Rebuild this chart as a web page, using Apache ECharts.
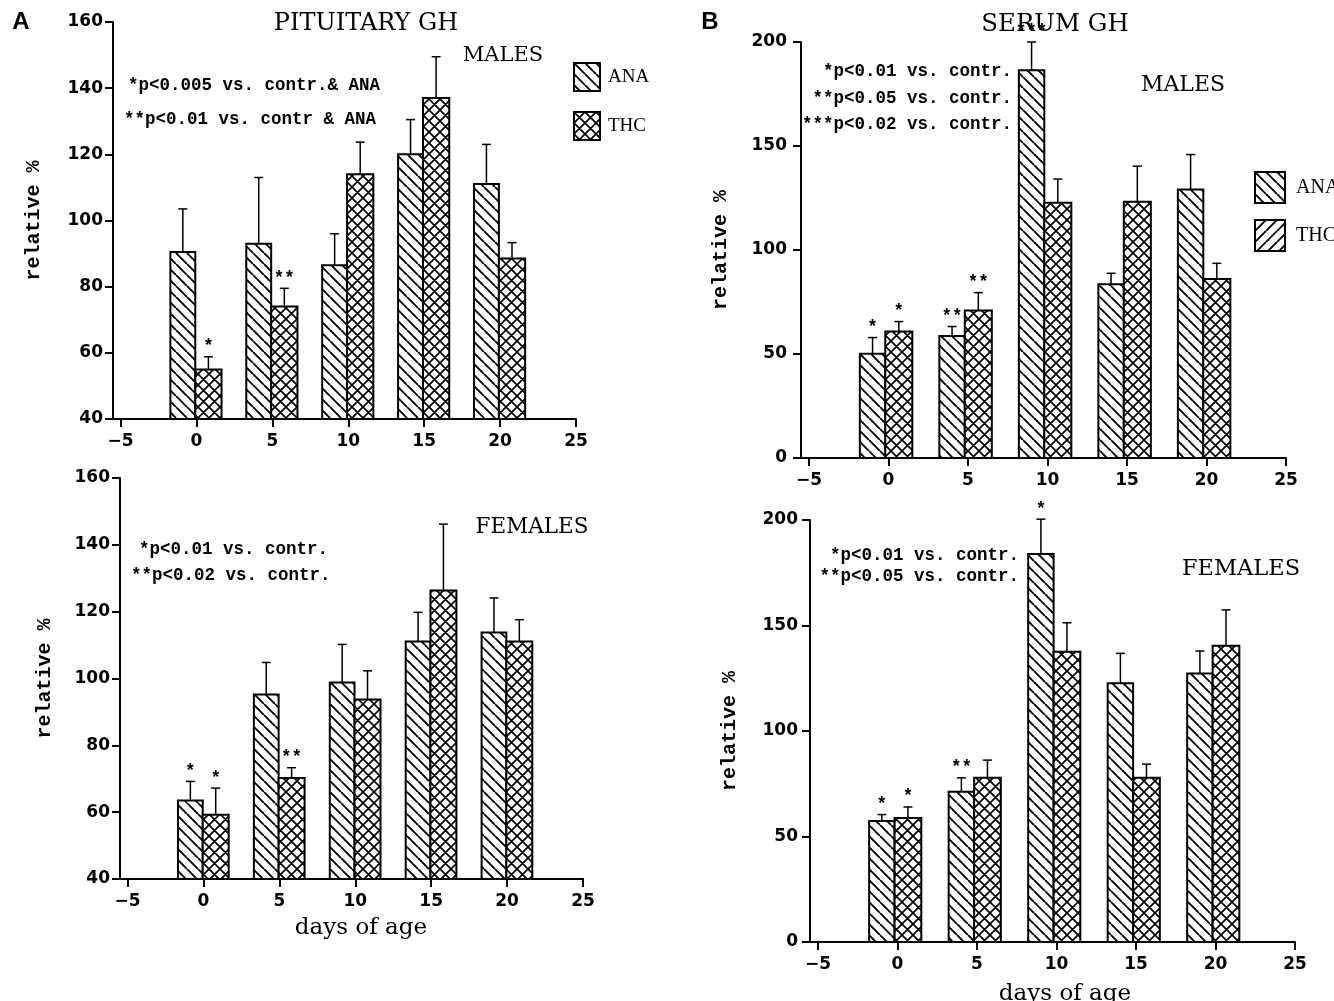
<!DOCTYPE html>
<html>
<head>
<meta charset="utf-8">
<title>Pituitary and serum GH</title>
<script src="https://cdn.jsdelivr.net/npm/echarts@6/dist/echarts.min.js"></script>
<style>
  html, body { margin: 0; padding: 0; background: #fff; }
  #main { width: 1334px; height: 1001px; }
</style>
</head>
<body>
<div id="main"></div>
<script>
// days of age (x positions of the bar pairs)
var days = [0, 5, 10, 15, 20];
var xTicks = [-5, 0, 5, 10, 15, 20, 25];

// A - pituitary GH, males
var pitMaleAna = [90.5, 93, 86.5, 120, 111];
var pitMaleAnaSe = [13, 20, 9.5, 10.5, 12];
var pitMaleThc = [55, 74, 114, 137, 88.5];
var pitMaleThcSe = [3.8, 5.5, 9.7, 12.5, 4.8];
var pitMaleAnaStars = ['', '', '', '', ''];
var pitMaleThcStars = ['*', '**', '', '', ''];

// A - pituitary GH, females
var pitFemAna = [63.5, 95.2, 98.8, 111.1, 113.8];
var pitFemAnaSe = [5.7, 9.6, 11.4, 8.7, 10.3];
var pitFemThc = [59.2, 70.2, 93.7, 126.3, 111.1];
var pitFemThcSe = [8, 3.1, 8.6, 19.9, 6.5];
var pitFemAnaStars = ['*', '', '', '', ''];
var pitFemThcStars = ['*', '**', '', '', ''];

// B - serum GH, males
var serMaleAna = [50.1, 58.7, 186.4, 83.5, 129.1];
var serMaleAnaSe = [7.8, 4.5, 13.6, 5.3, 16.8];
var serMaleThc = [60.8, 70.9, 122.7, 123.2, 86.1];
var serMaleThcSe = [4.8, 8.6, 11.4, 17.1, 7.5];
var serMaleAnaStars = ['*', '**', '***', '', ''];
var serMaleThcStars = ['*', '**', '', '', ''];

// B - serum GH, females
var serFemAna = [57.3, 71.2, 183.9, 122.6, 127.3];
var serFemAnaSe = [3.1, 6.6, 16.5, 14.2, 10.6];
var serFemThc = [58.8, 77.8, 137.6, 77.8, 140.4];
var serFemThcSe = [5.2, 8.4, 13.7, 6.5, 17];
var serFemAnaStars = ['*', '**', '*', '', ''];
var serFemThcStars = ['*', '', '', '', ''];

// hatch fills
function hatch(kind, size, lw) {
    var c = document.createElement('canvas');
    c.width = size;
    c.height = size;
    var g = c.getContext('2d');
    g.fillStyle = '#fff';
    g.fillRect(0, 0, size, size);
    g.strokeStyle = '#000';
    g.lineWidth = lw;
    g.beginPath();
    for (var k = -size; k <= size; k += size) {
        if (kind === 'back' || kind === 'cross') {
            g.moveTo(k, 0);
            g.lineTo(k + size, size);
        }
        if (kind === 'fwd' || kind === 'cross') {
            g.moveTo(k, size);
            g.lineTo(k + size, 0);
        }
    }
    g.stroke();
    return { image: c, repeat: 'repeat' };
}
var anaFill = hatch('back', 11, 1.9);
var thcFill = hatch('cross', 11, 1.7);
var fwdFill = hatch('fwd', 11, 1.9);

var monoBold = 'bold 17.5px "Liberation Mono"';
var serif = '"DejaVu Serif"';

function pairData(vals, ses) {
    return days.map(function (d, i) { return [d, vals[i], ses[i]]; });
}

function barRender(offL, offR, fill, stars) {
    return function (params, api) {
        var day = api.value(0), val = api.value(1), se = api.value(2);
        var cs = params.coordSys;
        var tl = api.coord([day + offL, val]);
        var tr = api.coord([day + offR, val]);
        var base = cs.y + cs.height;
        var cx = (tl[0] + tr[0]) / 2;
        var et = api.coord([day, val + se])[1];
        var kids = [
            { type: 'rect', shape: { x: tl[0], y: tl[1], width: tr[0] - tl[0], height: base - tl[1] },
              style: { fill: fill, stroke: '#000', lineWidth: 2 } },
            { type: 'line', shape: { x1: cx, y1: tl[1], x2: cx, y2: et }, style: { stroke: '#000', lineWidth: 1.5 } },
            { type: 'line', shape: { x1: cx - 4.5, y1: et, x2: cx + 4.5, y2: et }, style: { stroke: '#000', lineWidth: 1.5 } }
        ];
        var s = stars[params.dataIndex];
        if (s) {
            kids.push({ type: 'text', x: cx, y: et - 1,
                style: { text: s, font: monoBold, fill: '#000', textAlign: 'center', textVerticalAlign: 'bottom' } });
        }
        return { type: 'group', children: kids };
    };
}

var panels = [
    { grid: { left: 113, top: 22, width: 463, height: 397 }, min: 40, max: 160, step: 20,
      ana: pairData(pitMaleAna, pitMaleAnaSe), thc: pairData(pitMaleThc, pitMaleThcSe),
      anaStars: pitMaleAnaStars, thcStars: pitMaleThcStars, off: [-1.72, -0.08, 1.65], nameGap: 69, labMargin: 10 },
    { grid: { left: 120, top: 478, width: 463, height: 401 }, min: 40, max: 160, step: 20,
      ana: pairData(pitFemAna, pitFemAnaSe), thc: pairData(pitFemThc, pitFemThcSe),
      anaStars: pitFemAnaStars, thcStars: pitFemThcStars, off: [-1.68, -0.05, 1.66], nameGap: 65, labMargin: 10 },
    { grid: { left: 801, top: 42, width: 485, height: 416 }, min: 0, max: 200, step: 50,
      ana: pairData(serMaleAna, serMaleAnaSe), thc: pairData(serMaleThc, serMaleThcSe),
      anaStars: serMaleAnaStars, thcStars: serMaleThcStars, off: [-1.8, -0.2, 1.5], nameGap: 70, labMargin: 14 },
    { grid: { left: 810, top: 520, width: 485, height: 422 }, min: 0, max: 200, step: 50,
      ana: pairData(serFemAna, serFemAnaSe), thc: pairData(serFemThc, serFemThcSe),
      anaStars: serFemAnaStars, thcStars: serFemThcStars, off: [-1.78, -0.18, 1.5], nameGap: 70, labMargin: 12 }
];

var tickFont = { color: '#000', fontFamily: 'DejaVu Sans', fontWeight: 'bold', fontSize: 17 };
var axisLine = { show: true, onZero: false, lineStyle: { color: '#000', width: 2 } };

var option = {
    backgroundColor: '#fff',
    animation: false,
    grid: [], xAxis: [], yAxis: [], series: [],
    legend: [
        { orient: 'vertical', left: 568, top: 57, itemWidth: 26, itemHeight: 28, itemGap: 19,
          selectedMode: false, textStyle: { fontFamily: 'Liberation Serif', fontSize: 19, color: '#000', padding: [0, 0, 0, 3] },
          data: [
              { name: 'ANA', icon: 'rect', itemStyle: { color: anaFill, borderColor: '#000', borderWidth: 2 } },
              { name: 'THC', icon: 'rect', itemStyle: { color: thcFill, borderColor: '#000', borderWidth: 2 } }
          ] },
        { orient: 'vertical', left: 1249, top: 166, itemWidth: 30, itemHeight: 31, itemGap: 15,
          selectedMode: false, textStyle: { fontFamily: 'Liberation Serif', fontSize: 20, color: '#000', padding: [0, 0, 0, 6] },
          data: [
              { name: 'ANA', icon: 'rect', itemStyle: { color: anaFill, borderColor: '#000', borderWidth: 2 } },
              { name: 'THC', icon: 'rect', itemStyle: { color: fwdFill, borderColor: '#000', borderWidth: 2 } }
          ] }
    ],
    graphic: [
        { type: 'text', x: 21, y: 22, style: { text: 'A', font: 'bold 24px "Liberation Sans"', fill: '#000', textAlign: 'center', textVerticalAlign: 'middle' } },
        { type: 'text', x: 710, y: 22, style: { text: 'B', font: 'bold 24px "Liberation Sans"', fill: '#000', textAlign: 'center', textVerticalAlign: 'middle' } },
        { type: 'text', x: 366, y: 24, style: { text: 'PITUITARY GH', font: '24px ' + serif, fill: '#000', textAlign: 'center', textVerticalAlign: 'middle' } },
        { type: 'text', x: 1055, y: 25, style: { text: 'SERUM GH', font: '24.5px ' + serif, fill: '#000', textAlign: 'center', textVerticalAlign: 'middle' } },
        { type: 'text', x: 503, y: 56, style: { text: 'MALES', font: '21px ' + serif, fill: '#000', textAlign: 'center', textVerticalAlign: 'middle' } },
        { type: 'text', x: 532, y: 527, style: { text: 'FEMALES', font: '21.5px ' + serif, fill: '#000', textAlign: 'center', textVerticalAlign: 'middle' } },
        { type: 'text', x: 1183, y: 85, style: { text: 'MALES', font: '22px ' + serif, fill: '#000', textAlign: 'center', textVerticalAlign: 'middle' } },
        { type: 'text', x: 1241, y: 569, style: { text: 'FEMALES', font: '22.5px ' + serif, fill: '#000', textAlign: 'center', textVerticalAlign: 'middle' } },
        { type: 'text', x: 128, y: 86, style: { text: '*p<0.005 vs. contr.& ANA', font: monoBold, fill: '#000', textAlign: 'left', textVerticalAlign: 'middle' } },
        { type: 'text', x: 124, y: 120, style: { text: '**p<0.01 vs. contr & ANA', font: monoBold, fill: '#000', textAlign: 'left', textVerticalAlign: 'middle' } },
        { type: 'text', x: 139, y: 550, style: { text: '*p<0.01 vs. contr.', font: monoBold, fill: '#000', textAlign: 'left', textVerticalAlign: 'middle' } },
        { type: 'text', x: 131, y: 576, style: { text: '**p<0.02 vs. contr.', font: monoBold, fill: '#000', textAlign: 'left', textVerticalAlign: 'middle' } },
        { type: 'text', x: 1012, y: 72, style: { text: '*p<0.01 vs. contr.', font: monoBold, fill: '#000', textAlign: 'right', textVerticalAlign: 'middle' } },
        { type: 'text', x: 1012, y: 99, style: { text: '**p<0.05 vs. contr.', font: monoBold, fill: '#000', textAlign: 'right', textVerticalAlign: 'middle' } },
        { type: 'text', x: 1012, y: 125, style: { text: '***p<0.02 vs. contr.', font: monoBold, fill: '#000', textAlign: 'right', textVerticalAlign: 'middle' } },
        { type: 'text', x: 1019, y: 556, style: { text: '*p<0.01 vs. contr.', font: monoBold, fill: '#000', textAlign: 'right', textVerticalAlign: 'middle' } },
        { type: 'text', x: 1019, y: 577, style: { text: '**p<0.05 vs. contr.', font: monoBold, fill: '#000', textAlign: 'right', textVerticalAlign: 'middle' } },
        { type: 'text', x: 361, y: 928, style: { text: 'days of age', font: '23px ' + serif, fill: '#000', textAlign: 'center', textVerticalAlign: 'middle' } },
        { type: 'text', x: 1065, y: 994, style: { text: 'days of age', font: '23px ' + serif, fill: '#000', textAlign: 'center', textVerticalAlign: 'middle' } }
    ]
};

panels.forEach(function (p, i) {
    option.grid.push(p.grid);
    option.xAxis.push({
        type: 'value', gridIndex: i, min: -5.5, max: 25,
        axisLine: axisLine,
        axisTick: { show: true, customValues: xTicks, length: 8, lineStyle: { color: '#000', width: 2 } },
        axisLabel: Object.assign({ customValues: xTicks, margin: 14,
            formatter: function (v) { return v < 0 ? '\u2212' + (-v) : String(v); } }, tickFont),
        splitLine: { show: false }
    });
    option.yAxis.push({
        type: 'value', gridIndex: i, min: p.min, max: p.max, interval: p.step,
        name: 'relative %', nameLocation: 'middle', nameGap: p.nameGap, nameRotate: 90,
        nameTextStyle: { fontFamily: 'Liberation Mono', fontWeight: 'bold', fontSize: 20, color: '#000' },
        axisLine: axisLine,
        axisTick: { show: true, length: 8, lineStyle: { color: '#000', width: 2 } },
        axisLabel: Object.assign({ margin: p.labMargin }, tickFont),
        splitLine: { show: false }
    });
    option.series.push({
        name: 'ANA', type: 'custom', xAxisIndex: i, yAxisIndex: i,
        itemStyle: { color: anaFill },
        renderItem: barRender(p.off[0], p.off[1], anaFill, p.anaStars),
        encode: { x: 0, y: 1 }, data: p.ana
    });
    option.series.push({
        name: 'THC', type: 'custom', xAxisIndex: i, yAxisIndex: i,
        itemStyle: { color: thcFill },
        renderItem: barRender(p.off[1], p.off[2], thcFill, p.thcStars),
        encode: { x: 0, y: 1 }, data: p.thc
    });
});

var chart = echarts.init(document.getElementById('main'), null, { renderer: 'canvas' });
chart.setOption(option);
</script>
</body>
</html>
